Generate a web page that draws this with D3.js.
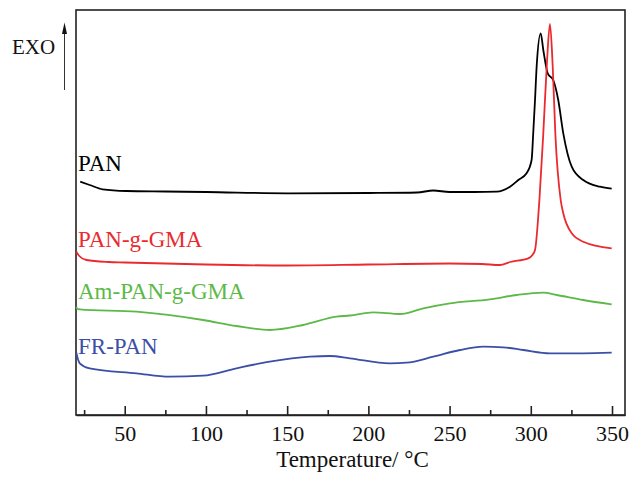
<!DOCTYPE html>
<html>
<head>
<meta charset="utf-8">
<script src="https://cdn.jsdelivr.net/npm/d3@7"></script>
<style>
  body { margin: 0; background: #fff; }
  svg text { font-family: 'Liberation Serif', 'Times New Roman', serif; }
</style>
</head>
<body>
<div id="chart"></div>
<script>
// DSC traces, heat flow in arbitrary units (exo up)
const panT = [22.6, 28.4, 36.4, 51, 75, 100, 150, 200, 230, 240, 250, 265, 279, 287.2, 292.3, 297.4, 300.5, 301.5, 302.6, 303.6, 306.1, 307.7, 310.4, 313.8, 316.9, 320, 325.2, 332.3, 342.6, 349.8];
const panY = [233.3, 230, 225.7, 224, 223.5, 223, 221.7, 222, 222.5, 224.5, 223, 223, 223.3, 228.3, 235, 241.7, 255, 281.7, 315, 348.3, 381.7, 365, 341.7, 335, 315, 281.7, 248.3, 235, 228.3, 226.3];

const gmaT = [20.2, 22, 26.4, 40, 50, 100, 150, 200, 250, 270, 281, 287.2, 298.4, 301, 302.6, 305.3, 307.7, 309.8, 311.8, 313.5, 315.1, 318.4, 320, 325.2, 332.3, 349.8];
const gmaY = [163.3, 159, 155, 153, 152.5, 150.5, 149.5, 150.5, 151.5, 151, 150, 153, 156.7, 160, 165, 215, 281.7, 348.3, 391, 348.3, 281.7, 215, 201.7, 181.7, 173.3, 166.7];

const amT = [20.2, 20.8, 22.3, 57.2, 98.2, 118.8, 139.3, 159.8, 180.4, 188.6, 203, 219.4, 233.8, 250.2, 274.8, 291.3, 307.7, 316, 332.3, 349.8];
const amY = [108.3, 106, 105.7, 103.3, 95, 89, 85, 90, 98.3, 99.5, 102.7, 101, 106.7, 111.7, 115.7, 120, 122.3, 120, 115, 110.7];

const frT = [20.2, 21, 22.3, 28.4, 57.2, 77.7, 98.2, 118.8, 139.3, 164, 176.3, 188.6, 213.2, 223.5, 240, 256.4, 270.7, 283, 295.4, 311.8, 332.3, 349.8];
const frY = [62.3, 57, 51.7, 46.7, 41.7, 38.3, 39.3, 46.7, 53.3, 58.3, 59, 56.7, 51.7, 52.3, 58.3, 65, 68.3, 67.7, 65, 61.7, 61.7, 62.3];

const seriesNames = ['PAN', 'PAN-g-GMA', 'Am-PAN-g-GMA', 'FR-PAN'];
const seriesColors = ['#000000', '#ea2a2e', '#5cb947', '#3b4fa6'];
const labelY = [244.3, 167.7, 115.7, 61]; // label baselines, same units as heat flow

const majorTicks = [50, 100, 150, 200, 250, 300, 350];
const minorTicks = [25, 75, 125, 175, 225, 275, 325];

const width = 630;
const height = 477;
const margin = { top: 10, right: 5, bottom: 62, left: 76 };

const svg = d3.select('#chart')
  .append('svg')
  .attr('width', width)
  .attr('height', height);

const x = d3.scaleLinear()
  .domain([20, 358])
  .range([margin.left, width - margin.right]);

const y = d3.scaleLinear()
  .domain([0, 405])
  .range([height - margin.bottom, margin.top]);

const plotH = height - margin.bottom - margin.top;

// frame
svg.append('rect')
  .attr('x', margin.left)
  .attr('y', margin.top)
  .attr('width', width - margin.right - margin.left)
  .attr('height', plotH)
  .attr('fill', 'none')
  .attr('stroke', '#222')
  .attr('stroke-width', 1.6);

// x axis, ticks pointing inward
const xAxis = svg.append('g')
  .attr('transform', `translate(0,${height - margin.bottom})`)
  .call(d3.axisBottom(x)
    .tickValues(majorTicks)
    .tickSizeInner(-9)
    .tickSizeOuter(0)
    .tickPadding(10)
    .tickFormat(d3.format('d')));
xAxis.select('.domain').attr('stroke', '#222').attr('stroke-width', 1.6);
xAxis.selectAll('.tick line').attr('stroke', '#222').attr('stroke-width', 1.6);
xAxis.selectAll('text')
  .attr('font-size', '22px')
  .attr('font-family', 'Liberation Serif, serif')
  .attr('fill', '#111');

const xMinor = svg.append('g')
  .attr('transform', `translate(0,${height - margin.bottom})`)
  .call(d3.axisBottom(x)
    .tickValues(minorTicks)
    .tickSizeInner(-5)
    .tickSizeOuter(0)
    .tickFormat(''));
xMinor.select('.domain').remove();
xMinor.selectAll('.tick line').attr('stroke', '#222').attr('stroke-width', 1.6);

svg.append('text')
  .attr('x', (margin.left + width - margin.right) / 2 + 2)
  .attr('y', 467)
  .attr('text-anchor', 'middle')
  .attr('font-size', '23px')
  .attr('fill', '#111')
  .text('Temperature/ °C');

// EXO arrow
svg.append('line')
  .attr('x1', 64.5)
  .attr('x2', 64.5)
  .attr('y1', 90)
  .attr('y2', 33)
  .attr('stroke', '#333')
  .attr('stroke-width', 1);

svg.append('path')
  .attr('d', 'M62,34 L64.5,22.5 L67,34 Z')
  .attr('fill', '#111');

svg.append('text')
  .attr('x', 12)
  .attr('y', 53.5)
  .attr('font-size', '21px')
  .attr('fill', '#111')
  .text('EXO');

// curves
const line = d3.line()
  .curve(d3.curveMonotoneX)
  .x(d => x(d[0]))
  .y(d => y(d[1]));

const allT = [panT, gmaT, amT, frT];
const allY = [panY, gmaY, amY, frY];

for (let i = 0; i < allT.length; i += 1) {
  const pts = allT[i].map((t, j) => [t, allY[i][j]]);
  svg.append('path')
    .datum(pts)
    .attr('fill', 'none')
    .attr('stroke', seriesColors[i])
    .attr('stroke-width', 1.8)
    .attr('stroke-linejoin', 'round')
    .attr('d', line);

  svg.append('text')
    .attr('x', 78)
    .attr('y', y(labelY[i]))
    .attr('font-size', '23px')
    .attr('fill', seriesColors[i])
    .text(seriesNames[i]);
}
</script>
</body>
</html>
